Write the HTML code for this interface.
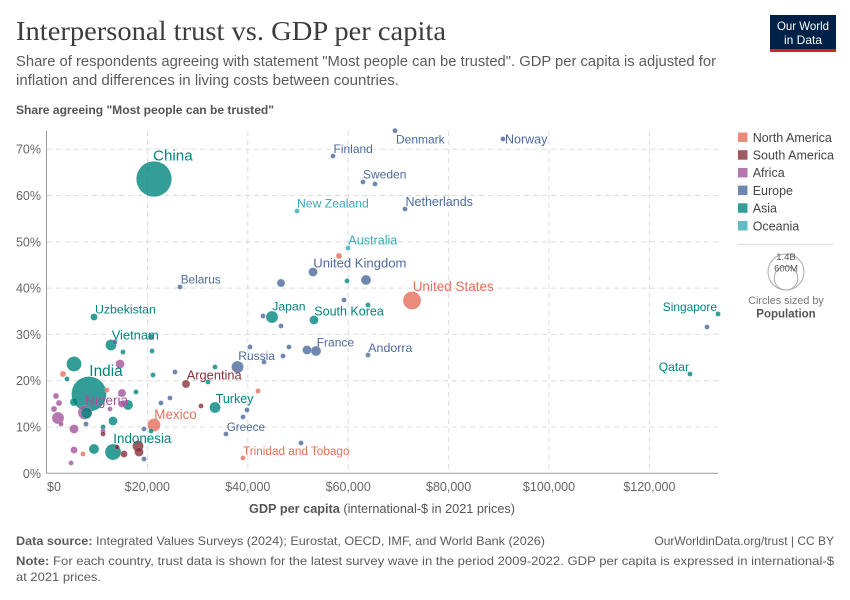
<!DOCTYPE html>
<html><head><meta charset="utf-8"><style>
html,body{margin:0;padding:0;background:#fff;}
svg{display:block;font-family:"Liberation Sans",Arial,sans-serif;}
.A{fill:#00847E}.E{fill:#4C6A9C}.F{fill:#A2559C}.N{fill:#E56E5A}.S{fill:#883039}.O{fill:#38AABA}
.pts circle{fill-opacity:.8;stroke-width:.5;stroke:#fff;stroke-opacity:.3}
.grid line{stroke:#dcdcdc;stroke-width:1;stroke-dasharray:5,4}
.tick{fill:#666;font-size:12.5px}
.lab{font-size:12px}
</style></head><body>
<svg width="850" height="600" viewBox="0 0 850 600" xmlns="http://www.w3.org/2000/svg">
<rect width="850" height="600" fill="#fff"/>
<!-- Header -->
<text x="16" y="40" font-family="'Liberation Serif',serif" font-size="27" fill="#3d3d3d" textLength="430" lengthAdjust="spacingAndGlyphs">Interpersonal trust vs. GDP per capita</text>
<text x="16" y="66" font-size="14.5" fill="#5b5b5b" textLength="700" lengthAdjust="spacingAndGlyphs">Share of respondents agreeing with statement "Most people can be trusted". GDP per capita is adjusted for</text>
<text x="16" y="85" font-size="14.5" fill="#5b5b5b" textLength="383" lengthAdjust="spacingAndGlyphs">inflation and differences in living costs between countries.</text>
<text x="16" y="114" font-size="12" font-weight="bold" fill="#555" textLength="258" lengthAdjust="spacingAndGlyphs">Share agreeing "Most people can be trusted"</text>
<!-- Logo -->
<rect x="770" y="15" width="66" height="37" fill="#002147"/>
<rect x="770" y="49" width="66" height="3" fill="#CE261E"/>
<text x="803" y="30" font-size="12" fill="#fff" text-anchor="middle" textLength="52" lengthAdjust="spacingAndGlyphs">Our World</text>
<text x="803" y="44" font-size="12" fill="#fff" text-anchor="middle">in Data</text>

<!-- Grid -->
<g class="grid">
<line x1="47" y1="427" x2="718" y2="427"/>
<line x1="47" y1="380.7" x2="718" y2="380.7"/>
<line x1="47" y1="334.4" x2="718" y2="334.4"/>
<line x1="47" y1="288.1" x2="718" y2="288.1"/>
<line x1="47" y1="241.8" x2="718" y2="241.8"/>
<line x1="47" y1="195.5" x2="718" y2="195.5"/>
<line x1="47" y1="149.2" x2="718" y2="149.2"/>
<line x1="147.4" y1="131" x2="147.4" y2="473"/>
<line x1="247.8" y1="131" x2="247.8" y2="473"/>
<line x1="348.2" y1="131" x2="348.2" y2="473"/>
<line x1="448.6" y1="131" x2="448.6" y2="473"/>
<line x1="549" y1="131" x2="549" y2="473"/>
<line x1="649.4" y1="131" x2="649.4" y2="473"/>
</g>
<line x1="46.5" y1="131" x2="46.5" y2="473.5" stroke="#999" stroke-width="1"/>
<line x1="46.5" y1="473.3" x2="718" y2="473.3" stroke="#999" stroke-width="1"/>

<!-- Y ticks -->
<g class="tick" text-anchor="end">
<text x="41" y="477.8">0%</text>
<text x="41" y="431.5">10%</text>
<text x="41" y="385.2">20%</text>
<text x="41" y="338.9">30%</text>
<text x="41" y="292.6">40%</text>
<text x="41" y="246.3">50%</text>
<text x="41" y="200">60%</text>
<text x="41" y="153.7">70%</text>
</g>
<!-- X ticks -->
<g class="tick" text-anchor="middle">
<text x="47" y="491" text-anchor="start">$0</text>
<text x="147.4" y="491">$20,000</text>
<text x="247.8" y="491">$40,000</text>
<text x="348.2" y="491">$60,000</text>
<text x="448.6" y="491">$80,000</text>
<text x="549" y="491">$100,000</text>
<text x="649.4" y="491">$120,000</text>
</g>
<text x="249" y="513" font-size="12.5" fill="#555" textLength="266" lengthAdjust="spacingAndGlyphs"><tspan font-weight="bold">GDP per capita</tspan> (international-$ in 2021 prices)</text>

<!-- Points -->
<g class="pts">
<circle class="A" cx="154" cy="179" r="17.7"/>
<circle class="A" cx="89" cy="394" r="17.5"/>
<circle class="N" cx="412" cy="300.5" r="9"/>
<circle class="A" cx="113" cy="452" r="8"/>
<circle class="A" cx="74" cy="364" r="7.5"/>
<circle class="F" cx="85" cy="412.5" r="7"/>
<circle class="A" cx="86.5" cy="413" r="5.5"/>
<circle class="N" cx="154" cy="425" r="6.5"/>
<circle class="E" cx="237.5" cy="367" r="6"/>
<circle class="A" cx="272" cy="317" r="6"/>
<circle class="F" cx="58" cy="418" r="6"/>
<circle class="A" cx="215" cy="407.5" r="5.5"/>
<circle class="A" cx="111" cy="345" r="5.5"/>
<circle class="S" cx="138" cy="446" r="5.5"/>
<circle class="A" cx="128" cy="405" r="5"/>
<circle class="A" cx="94" cy="449" r="5"/>
<circle class="E" cx="366" cy="280" r="5"/>
<circle class="E" cx="316" cy="351" r="5"/>
<circle class="E" cx="307" cy="350" r="4.5"/>
<circle class="E" cx="313" cy="272" r="4.5"/>
<circle class="A" cx="314" cy="320" r="4.5"/>
<circle class="F" cx="120" cy="364" r="4.5"/>
<circle class="F" cx="74" cy="429" r="4.5"/>
<circle class="A" cx="113" cy="421" r="4.5"/>
<circle class="S" cx="139" cy="452" r="4.5"/>
<circle class="E" cx="281" cy="283" r="4"/>
<circle class="S" cx="186" cy="384" r="4"/>
<circle class="F" cx="122" cy="393" r="4"/>
<circle class="F" cx="122" cy="404" r="3.5"/>
<circle class="A" cx="74" cy="402" r="4"/>
<circle class="A" cx="94" cy="317" r="3.5"/>
<circle class="F" cx="74" cy="450" r="3.5"/>
<circle class="S" cx="124" cy="454" r="3.5"/>
<circle class="N" cx="339" cy="256" r="3"/>
<circle class="A" cx="151" cy="337" r="3"/>
<circle class="F" cx="56" cy="396" r="3"/>
<circle class="F" cx="59" cy="403" r="3"/>
<circle class="F" cx="54" cy="409" r="3"/>
<circle class="N" cx="63" cy="374" r="3"/>
<!-- small Europe -->
<circle class="E" cx="395" cy="130.7" r="2.5"/>
<circle class="E" cx="503" cy="139" r="2.5"/>
<circle class="E" cx="333" cy="156" r="2.5"/>
<circle class="E" cx="363" cy="182" r="2.5"/>
<circle class="E" cx="375" cy="184" r="2.5"/>
<circle class="E" cx="405" cy="209" r="2.5"/>
<circle class="E" cx="344" cy="300" r="2.5"/>
<circle class="E" cx="263" cy="316" r="2.5"/>
<circle class="E" cx="281" cy="326" r="2.5"/>
<circle class="E" cx="250" cy="347" r="2.5"/>
<circle class="E" cx="289" cy="347" r="2.5"/>
<circle class="E" cx="283" cy="356" r="2.5"/>
<circle class="E" cx="264" cy="362" r="2.5"/>
<circle class="E" cx="368" cy="355" r="2.5"/>
<circle class="E" cx="180" cy="287" r="2.5"/>
<circle class="E" cx="175" cy="372" r="2.5"/>
<circle class="E" cx="161" cy="403" r="2.5"/>
<circle class="E" cx="170" cy="398" r="2.5"/>
<circle class="E" cx="247" cy="410" r="2.5"/>
<circle class="E" cx="243" cy="417" r="2.5"/>
<circle class="E" cx="226" cy="434" r="2.5"/>
<circle class="E" cx="301" cy="443" r="2.5"/>
<circle class="E" cx="144" cy="429" r="2.5"/>
<circle class="E" cx="707" cy="327" r="2.5"/>
<circle class="E" cx="86" cy="424" r="2.5"/>
<circle class="E" cx="115" cy="342" r="2.5"/>
<circle class="E" cx="144" cy="459" r="2.5"/>
<!-- Oceania -->
<circle class="O" cx="297" cy="211" r="2.5"/>
<circle class="O" cx="348" cy="248" r="2.5"/>
<!-- NA small -->
<circle class="N" cx="258" cy="391" r="2.5"/>
<circle class="N" cx="243" cy="458" r="2.5"/>
<circle class="N" cx="83" cy="454" r="2.5"/>
<circle class="N" cx="107" cy="390" r="2.5"/>
<!-- Asia small -->
<circle class="A" cx="347" cy="281" r="2.5"/>
<circle class="A" cx="368" cy="305" r="2.5"/>
<circle class="A" cx="215" cy="367" r="2.5"/>
<circle class="A" cx="208" cy="382" r="2.5"/>
<circle class="A" cx="153" cy="375" r="2.5"/>
<circle class="A" cx="152" cy="351" r="2.5"/>
<circle class="A" cx="123" cy="352" r="2.5"/>
<circle class="A" cx="136" cy="392" r="2.5"/>
<circle class="A" cx="103" cy="427" r="2.5"/>
<circle class="A" cx="151" cy="431" r="2.5"/>
<circle class="A" cx="67" cy="379" r="2.5"/>
<circle class="A" cx="718" cy="314" r="2.5"/>
<circle class="A" cx="690" cy="374" r="2.5"/>
<!-- Africa small -->
<circle class="F" cx="110" cy="409" r="2.5"/>
<circle class="F" cx="103" cy="431" r="2.5"/>
<circle class="F" cx="71" cy="463" r="2.5"/>
<circle class="F" cx="61" cy="424" r="2.5"/>
<!-- SA small -->
<circle class="S" cx="117" cy="447" r="2.5"/>
<circle class="S" cx="103" cy="434" r="2.5"/>
<circle class="S" cx="201" cy="406" r="2.5"/>
</g>

<!-- Labels -->
<g class="lab">
<text x="153" y="160.5" font-size="15.2" fill="#00847E">China</text>
<text x="396" y="143.3" fill="#4C6A9C">Denmark</text>
<text x="505" y="143.5" font-size="12.5" fill="#4C6A9C">Norway</text>
<text x="333.5" y="153" fill="#4C6A9C">Finland</text>
<text x="363" y="178.6" fill="#4C6A9C">Sweden</text>
<text x="297" y="207.7" font-size="12.2" fill="#38AABA">New Zealand</text>
<text x="405.5" y="206.2" font-size="12.5" fill="#4C6A9C">Netherlands</text>
<text x="348.3" y="244.5" font-size="12.6" fill="#38AABA">Australia</text>
<text x="313.3" y="267.4" font-size="13.1" fill="#4C6A9C">United Kingdom</text>
<text x="412.7" y="290.9" font-size="13.5" fill="#E56E5A">United States</text>
<text x="180.7" y="283.5" font-size="11.8" fill="#4C6A9C">Belarus</text>
<text x="272.3" y="310.7" font-size="12.2" fill="#00847E">Japan</text>
<text x="314.3" y="315.5" font-size="12.5" fill="#00847E">South Korea</text>
<text x="95" y="313.4" font-size="12.3" fill="#00847E">Uzbekistan</text>
<text x="717" y="311" font-size="11.9" fill="#00847E" text-anchor="end">Singapore</text>
<text x="316.7" y="346.3" fill="#4C6A9C">France</text>
<text x="368.3" y="352.2" font-size="12.4" fill="#4C6A9C">Andorra</text>
<text x="111.7" y="339.6" font-size="12.9" fill="#00847E">Vietnam</text>
<text x="238.3" y="360" fill="#4C6A9C">Russia</text>
<text x="689" y="371" font-size="12.1" fill="#00847E" text-anchor="end">Qatar</text>
<text x="89.3" y="376.2" font-size="15.4" fill="#00847E">India</text>
<text x="186.7" y="379.6" font-size="12.85" fill="#883039">Argentina</text>
<text x="215.7" y="402.8" font-size="12.5" fill="#00847E">Turkey</text>
<text x="85" y="404.9" font-size="13.6" fill="#A2559C">Nigeria</text>
<text x="154.3" y="419.1" font-size="13.4" fill="#E56E5A">Mexico</text>
<text x="226.7" y="430.9" font-size="11.7" fill="#4C6A9C">Greece</text>
<text x="113.3" y="443.1" font-size="13.4" fill="#00847E">Indonesia</text>
<text x="243" y="454.9" font-size="11.75" fill="#E56E5A">Trinidad and Tobago</text>
</g>

<!-- Legend -->
<g font-size="12.5" fill="#444">
<rect x="738" y="132.5" width="9.5" height="9.5" fill="#E56E5A" fill-opacity=".8"/>
<text x="752.7" y="141.8">North America</text>
<rect x="738" y="150.2" width="9.5" height="9.5" fill="#883039" fill-opacity=".8"/>
<text x="752.7" y="159.5">South America</text>
<rect x="738" y="167.9" width="9.5" height="9.5" fill="#A2559C" fill-opacity=".8"/>
<text x="752.7" y="177.2">Africa</text>
<rect x="738" y="185.6" width="9.5" height="9.5" fill="#4C6A9C" fill-opacity=".8"/>
<text x="752.7" y="194.9">Europe</text>
<rect x="738" y="203.3" width="9.5" height="9.5" fill="#00847E" fill-opacity=".8"/>
<text x="752.7" y="212.6">Asia</text>
<rect x="738" y="221" width="9.5" height="9.5" fill="#38AABA" fill-opacity=".8"/>
<text x="752.7" y="230.3">Oceania</text>
</g>
<line x1="738" y1="244.3" x2="834" y2="244.3" stroke="#ddd" stroke-width="1"/>
<circle cx="786" cy="272" r="18" fill="none" stroke="#aaa" stroke-width="1"/>
<circle cx="786" cy="278.2" r="11.8" fill="none" stroke="#aaa" stroke-width="1"/>
<text x="786" y="260" font-size="9.5" fill="#555" text-anchor="middle">1.4B</text>
<text x="786" y="271.3" font-size="9.5" fill="#555" text-anchor="middle">600M</text>
<text x="786" y="304" font-size="10.8" fill="#777" text-anchor="middle">Circles sized by</text>
<text x="786" y="317.5" font-size="11.5" font-weight="bold" fill="#555" text-anchor="middle">Population</text>

<!-- Footer -->
<text x="16" y="545" font-size="12" fill="#5b5b5b" textLength="529" lengthAdjust="spacingAndGlyphs"><tspan font-weight="bold">Data source:</tspan> Integrated Values Surveys (2024); Eurostat, OECD, IMF, and World Bank (2026)</text>
<text x="834" y="545" font-size="12" fill="#5b5b5b" text-anchor="end">OurWorldinData.org/trust | CC BY</text>
<text x="16" y="565" font-size="12" fill="#5b5b5b" textLength="818" lengthAdjust="spacingAndGlyphs"><tspan font-weight="bold">Note:</tspan> For each country, trust data is shown for the latest survey wave in the period 2009-2022. GDP per capita is expressed in international-$</text>
<text x="16" y="581" font-size="12" fill="#5b5b5b" textLength="85" lengthAdjust="spacingAndGlyphs">at 2021 prices.</text>
</svg>
</body></html>
